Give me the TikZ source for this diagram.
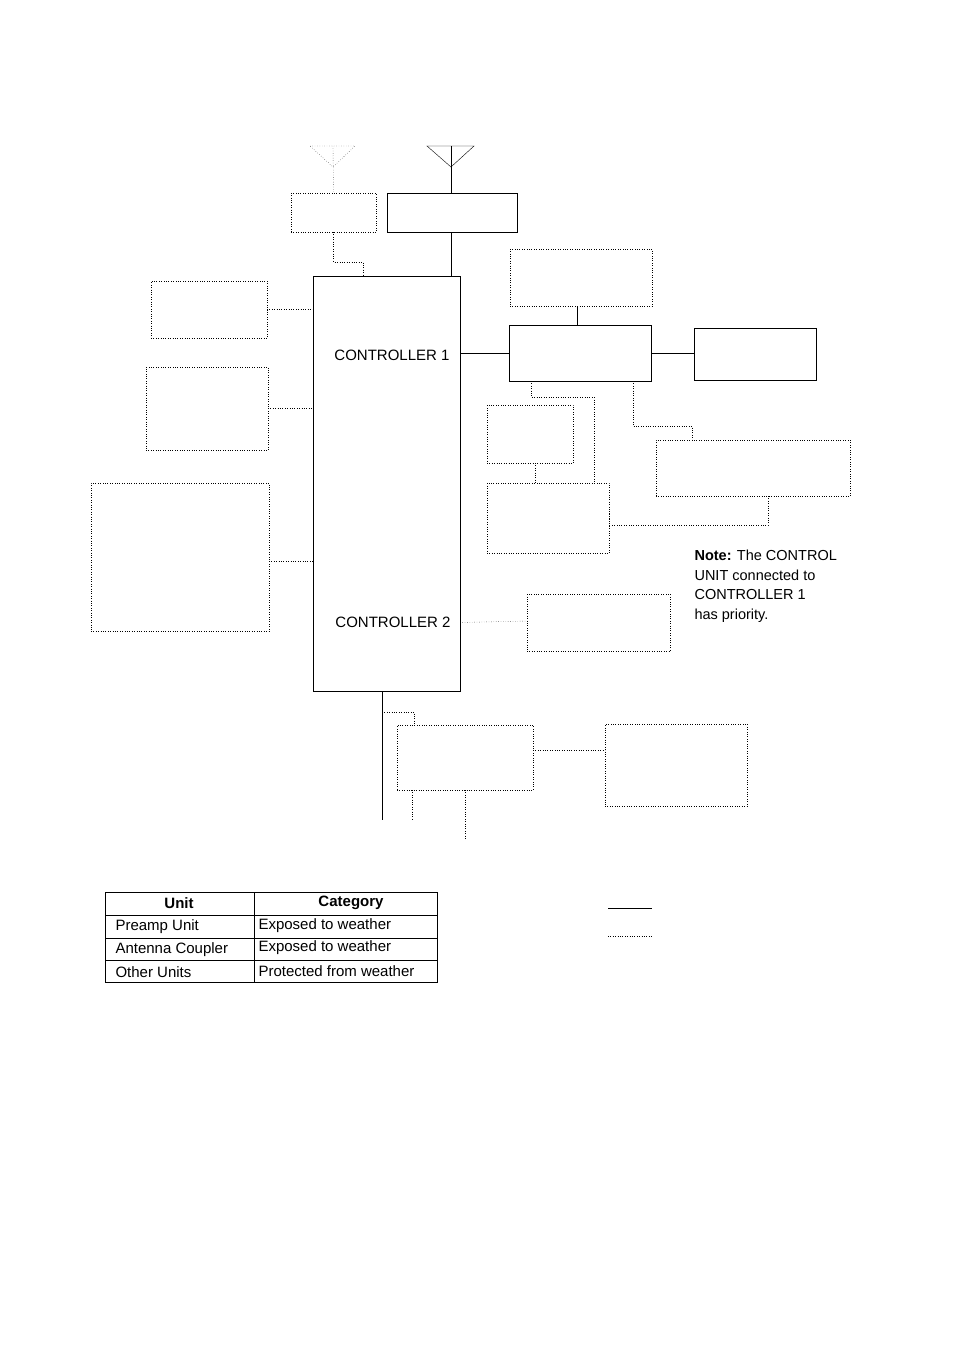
\documentclass[tikz,border=0pt]{standalone}
\usepackage{fontspec}
\setmainfont{Liberation Sans}
\usetikzlibrary{positioning}
\tikzset{
dotbox/.style={rectangle, draw, dotted, thin, inner sep=0pt, outer sep=0pt},
solidbox/.style={rectangle, draw, thick, inner sep=0pt, outer sep=0pt},
dotline/.style={dotted, thin},
solidline/.style={thin},
every label/.style={rectangle, draw=none}
}
\begin{document}
\begin{tikzpicture}[x=1pt, y=-1pt, font=\fontsize{15}{18}\selectfont]
\useasboundingbox (0,0) rectangle (954,1351);

%% Boxes
\node[dotbox, minimum width=85, minimum height=39] (preamp) at (333.5,212.5) {};
\node[solidbox, thin, minimum width=130, minimum height=39] (coupler) at (452,212.5) {};
\node[solidbox, minimum width=147, minimum height=415] (ctrl) at (386.5,483.5) {};
\node at (392,355) {CONTROLLER 1};
\node at (393,622) {CONTROLLER 2};

\node[dotbox, minimum width=116, minimum height=57] (left1) at (209,309.5) {};
\node[dotbox, minimum width=122, minimum height=83] (left2) at (207,408.5) {};
\node[dotbox, minimum width=178, minimum height=148] (left3) at (180,557) {};

\node[dotbox, minimum width=142, minimum height=57] (unitA) at (581,277.5) {};
\node[solidbox, minimum width=142, minimum height=56] (unitB) at (580,353) {};
\node[solidbox, minimum width=122, minimum height=52] (unitC) at (755,354) {};
\node[dotbox, minimum width=86, minimum height=58] (unitD) at (530,434) {};
\node[dotbox, minimum width=122, minimum height=70] (unitE) at (548,518) {};
\node[dotbox, minimum width=194, minimum height=56] (unitF) at (753,468) {};
\node[dotbox, minimum width=143, minimum height=57] (unitG) at (598.5,622.5) {};
\node[dotbox, minimum width=136, minimum height=65] (unitH) at (465,757.5) {};
\node[dotbox, minimum width=142, minimum height=82] (unitI) at (676,765) {};

%% Antennas
\coordinate (antA) at (333,146);
\coordinate (antB) at (451,146);
\draw[dotline] (310,146) -- (355,146) -- (333,167) -- cycle;
\draw[dotline] (antA) -- (preamp.north);
\draw[solidline] (427,146) -- (474,146) -- (451,167) -- cycle;
\draw[solidline] (antB) -- (coupler.north -| antB);
\draw[solidline] (coupler.south -| antB) -- (ctrl.north -| antB);

%% Connectors
\draw[dotline] (preamp.south) -- ++(0,30) -| ([xshift=-23.5]ctrl.north);
\draw[dotline] (left1.east) -- (left1.east -| ctrl.west);
\draw[dotline] (left2.east) -- (left2.east -| ctrl.west);
\draw[dotline] ([yshift=-4]left3.east) -- ([yshift=-4]left3.east -| ctrl.west);
\draw[solidline] (unitB.west -| ctrl.east) -- (unitB.west);
\draw[solidline] (unitA.south -| 577,0) -- (unitB.north -| 577,0);
\draw[solidline] (unitB.east) -- (unitB.east -| unitC.west);
\draw[dotline] ([xshift=-49]unitB.south) -- ++(0,16) -| ([xshift=46]unitE.north);
\draw[dotline] ([xshift=5]unitD.south) -- ([xshift=-13]unitE.north);
\draw[dotline] ([xshift=53]unitB.south) -- ++(0,45) -| ([xshift=-61]unitF.north);
\draw[dotline] ([xshift=15]unitF.south) -- ++(0,29) -| ([yshift=7]unitE.east);
\draw[dotline] (unitG.west -| ctrl.east) -- ([yshift=1.5]unitG.west);
\coordinate (busEnd) at (382,820);
\draw[thick] (ctrl.south -| busEnd) -- (busEnd);
\draw[dotline] (382,712) -| ([xshift=-51]unitH.north);
\draw[dotline] ([xshift=-53]unitH.south) -- ++(0,30);
\draw[dotline] (unitH.south) -- ++(0,50);
\draw[dotline] ([yshift=7.5]unitH.east) -- ([yshift=7.5]unitH.east -| unitI.west);

%% Note
\node[right, align=left, font=\fontsize{14.5}{19.5}\selectfont] at (691,586) {\textbf{Note:} The CONTROL\\UNIT connected to\\CONTROLLER 1\\has priority.};

%% Table
\draw[thick] (105,892) rectangle (437,982);
\draw (254,892) -- (254,982);
\foreach \y in {915,938,960} {
    \draw (105,\y) -- (437,\y);
}
\node[font=\fontsize{15}{18}\selectfont\bfseries] (hUnit) at (179,903) {Unit};
\node[font=\fontsize{15}{18}\selectfont\bfseries] (hCat) at (351,903) {Category};
\node[right] (r1a) at (112,927) {Preamp Unit};
\node[right] (r2a) at (112,950) {Antenna Coupler};
\node[right] (r3a) at (112,972) {Other Units};
\node[right] (r1b) at (255,926) {Exposed to weather};
\node[right] (r2b) at (255,948) {Exposed to weather};
\node[right] (r3b) at (255,971) {Protected from weather};

%% Legend
\coordinate (legA) at (608,908);
\coordinate (legB) at (652,908);
\coordinate (legC) at (608,936);
\coordinate (legD) at (652,936);
\draw[solidline] (legA) -- (legB);
\draw[dotline] (legC) -- (legD);
\end{tikzpicture}
\end{document}
